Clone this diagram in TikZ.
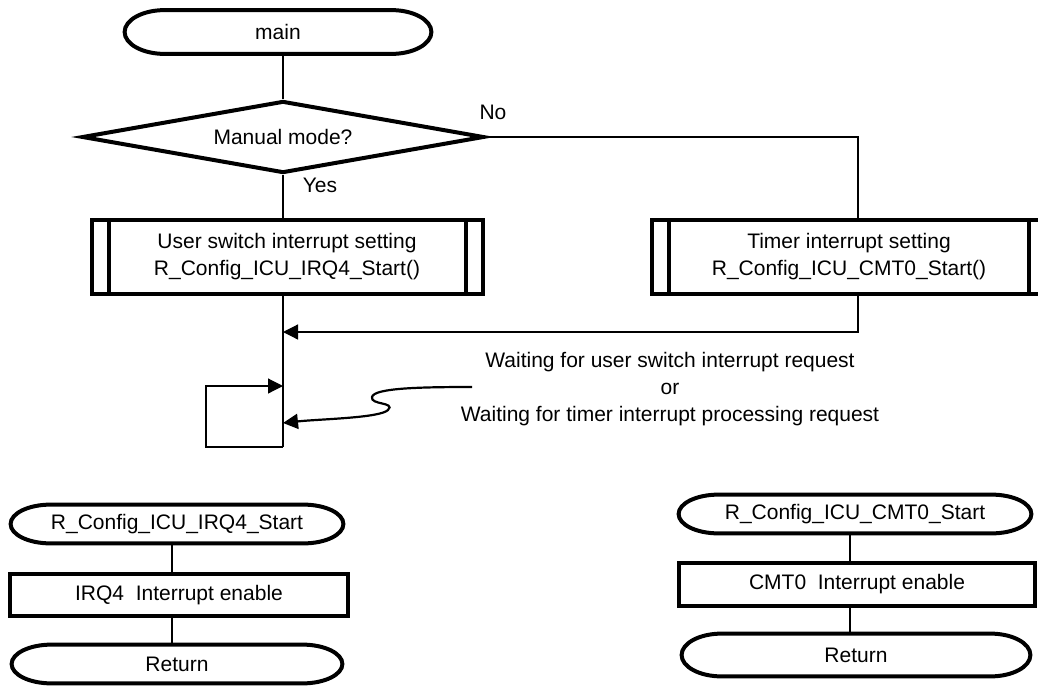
\documentclass[tikz,border=0pt]{standalone}
\usepackage{fontspec}
\setmainfont{Liberation Sans}
\usepackage{tikz}
\usetikzlibrary{shapes.geometric,arrows.meta,calc}

\begin{document}
\fontsize{10.5}{13.5}\selectfont
\begin{tikzpicture}[x=0.5pt,y=-0.5pt,
    term/.style={rectangle,inner sep=0pt},
    proc/.style={draw,rectangle,line width=2pt,inner sep=0pt},
    decide/.style={draw,diamond,aspect=5.5,line width=2pt,inner sep=0pt,minimum width=201pt,minimum height=36pt},
    subproc/.style={draw,rectangle,line width=2pt,inner sep=0pt,minimum height=37pt,align=center,
        path picture={
            \draw[line width=2pt] ([xshift=8.5pt]path picture bounding box.north west) -- ([xshift=8.5pt]path picture bounding box.south west);
            \draw[line width=2pt] ([xshift=-8.5pt]path picture bounding box.north east) -- ([xshift=-8.5pt]path picture bounding box.south east);}},
    link/.style={line width=0.6pt},
    tip/.style={-{Triangle[length=7.5pt,width=7.5pt]}}]
    \useasboundingbox (0,0) rectangle (1038,686);

    \node[term,minimum width=153pt,minimum height=21.5pt] (main) at (278,32) {main};
    \node[decide] (dia) at (283,137) {Manual mode?};
    \node[subproc,minimum width=195.5pt] (usr) at (287,257) {User switch interrupt setting\\R\_Config\_ICU\_IRQ4\_Start()};
    \node[subproc,minimum width=197pt] (tmr) at (849,257) {Timer interrupt setting\\R\_Config\_ICU\_CMT0\_Start()};

    \node at (493,112) {No};
    \node at (320,185) {Yes};

    \coordinate (join) at (283,332);
    \coordinate (loopin) at (283,386);
    \coordinate (retpt) at (283,423);
    \coordinate (loopend) at (283,447);
    \coordinate (waitsrc) at (472,387);

    \node[align=center] (wait) at (670,389) {Waiting for user switch interrupt request\\or\\Waiting for timer interrupt processing request};

    \draw[link] (main.south -| dia.north) -- (dia.north);
    \draw[link] (dia.south) -- (dia.south |- usr.north);
    \draw[link] (dia.east) -| ([xshift=4.5pt]tmr.north);
    \draw[link,tip] ([xshift=4.5pt]tmr.south) |- (join);
    \draw[link] (usr.south -| join) -- (loopend);
    \draw[link,tip] (loopend) -- ++(-77,0) |- (loopin);
    \draw[line width=1.1pt,tip] (waitsrc) .. controls (420,387) and (374,388) .. (372,397)
        .. controls (370,405) and (396,402) .. (388,410)
        .. controls (380,418) and (320,419) .. (retpt);

    \node[term,minimum width=166pt,minimum height=19pt] (irq) at (177,524) {R\_Config\_ICU\_IRQ4\_Start};
    \node[proc,minimum width=169pt,minimum height=21pt] (irqen) at (179,595) {IRQ4\ \ Interrupt enable};
    \node[term,minimum width=165pt,minimum height=19pt] (irqret) at (177,664) {Return};
    \draw[link] (irq.south -| 172,0) -- (irqen.north -| 172,0);
    \draw[link] (irqen.south -| 172,0) -- (irqret.north -| 172,0);

    \node[term,minimum width=176pt,minimum height=19pt] (cmt) at (855,514) {R\_Config\_ICU\_CMT0\_Start};
    \node[proc,minimum width=178pt,minimum height=21.5pt] (cmten) at (857,584) {CMT0\ \ Interrupt enable};
    \node[term,minimum width=174pt,minimum height=21pt] (cmtret) at (856,655) {Return};
    \draw[link] (cmt.south -| 850,0) -- (cmten.north -| 850,0);
    \draw[link] (cmten.south -| 850,0) -- (cmtret.north -| 850,0);

    \foreach \nm in {main,irq,irqret,cmt,cmtret}
        \draw[line width=2pt] let \p1=($(\nm.north)-(\nm.south)$) in
            ([xshift=20pt]\nm.north west) -- ([xshift=-20pt]\nm.north east)
            arc[start angle=90,end angle=-90,x radius=20pt,y radius=0.5*\y1]
            -- ([xshift=20pt]\nm.south west)
            arc[start angle=270,end angle=90,x radius=20pt,y radius=0.5*\y1] -- cycle;
\end{tikzpicture}
\end{document}
